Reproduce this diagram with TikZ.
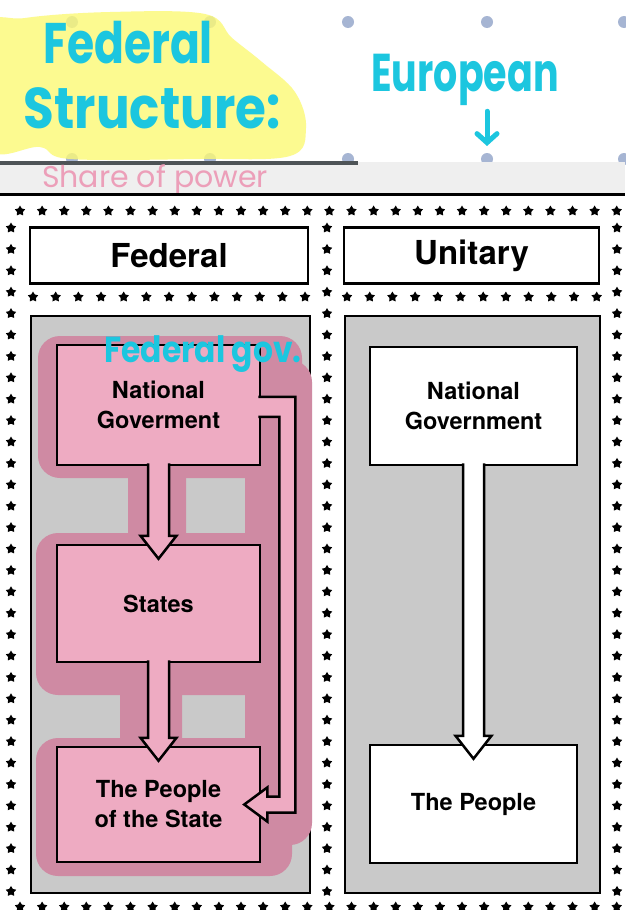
\documentclass[tikz,border=0pt]{standalone}
\usepackage{fontspec}
\setmainfont{TeX Gyre Heros}
\newfontfamily\handfont{Poppins}
\usetikzlibrary{calc,shapes.geometric,arrows.meta}

\definecolor{markcyan}{HTML}{1CC6DF}
\definecolor{hiyellow}{HTML}{FCF975}
\definecolor{dotblue}{HTML}{A6B5D3}
\definecolor{stripgray}{HTML}{EFEFEF}
\definecolor{rulegray}{HTML}{4E5457}
\definecolor{penpink}{HTML}{EC9FB9}
\definecolor{panelgray}{HTML}{C9C9C9}
\definecolor{blobpink}{HTML}{CF8AA3}
\definecolor{boxpink}{HTML}{EEABC2}

\tikzset{
  starpt/.style={star, star points=5, star point ratio=1.8, fill=black, inner sep=0pt, minimum size=11pt},
  hdrbox/.style={draw, line width=2.5pt, fill=white, minimum height=56pt, font=\bfseries\fontsize{33}{38}\selectfont},
  panel/.style={draw, line width=2.5pt, fill=panelgray},
  levelbox/.style={draw, line width=2.5pt, minimum width=203pt, align=center, font=\bfseries\fontsize{23.5}{30}\selectfont},
  blockarrow/.style={draw, line width=2.5pt, line join=miter},
  blob/.style={fill=blobpink, rounded corners=22pt},
  hand/.style={text=markcyan, font=\handfont\bfseries\fontsize{#1}{#1}\selectfont},
  penhand/.style={text=penpink, font=\handfont\fontsize{#1}{#1}\selectfont},
  handarrow/.style={draw=markcyan, line width=5pt, line cap=round, -{Straight Barb[length=9pt,width=20pt,line cap=round]}}
}

% hollow down arrow from one box into the next
\newcommand{\downblock}[3]{%
  \draw[blockarrow, fill=#3]
    ($(#1.south)+(-10.5,-3)$) -- ($(#2.north)+(-10.5,-8)$) -- ($(#2.north)+(-18,-8)$)
    -- ($(#2.north)+(0,15)$) -- ($(#2.north)+(18,-8)$) -- ($(#2.north)+(10.5,-8)$)
    -- ($(#1.south)+(10.5,-3)$);}

\begin{document}
\begin{tikzpicture}[x=1pt, y=-1pt]
  \useasboundingbox (0,0) rectangle (625,910);
  \fill[white] (0,0) rectangle (625,910);

  % notebook dots
  \foreach \dx in {72,210,348,487,624}
    \foreach \dy in {22,159}
      \fill[dotblue] (\dx,\dy) circle (6pt);

  % highlighter and notes
  \fill[hiyellow, fill opacity=0.8] plot[smooth cycle, tension=0.6] coordinates
    {(-12,30) (25,18) (110,12) (205,14) (232,38) (262,62) (295,92) (306,128) (290,156) (200,159) (70,159) (40,147) (-12,146)};
  \node[hand=44] (fedword) at (128,43) {\scalebox{1}[1.3]{Federal}};
  \node[hand=50] (structword) at (152,108) {\scalebox{1}[1.15]{Structure:}};
  \node[hand=38] (european) at (465,80) {\scalebox{1}[1.4]{European}};
  \coordinate (euroTip) at (487,146);
  \draw[handarrow] ($(european.south -| euroTip)+(0,2)$) -- (euroTip);

  \fill[stripgray] (0,162) rectangle (625,193);
  \draw[rulegray, line width=4.5pt] (0,163) -- (358,163);
  \node[penhand=30] (sharenote) at (155,180) {Share of power};
  \draw[line width=3pt] (0,194) -- (625,194);

  % star border
  \foreach \i in {0,...,27} {
    \node[starpt] (topstar-\i) at (20+22.1*\i,211) {};
    \node[starpt] (botstar-\i) at (20+22.1*\i,907) {};
  }
  \foreach \i in {0,...,12}
    \node[starpt] (midstarL-\i) at (33+22.67*\i,297) {};
  \foreach \i in {0,...,11}
    \node[starpt] (midstarR-\i) at (347+22.7*\i,297) {};
  \foreach \i in {0,...,31} {
    \node[starpt] (lstar-\i) at (11,228+21.4*\i) {};
    \node[starpt] (cstar-\i) at (327,228+21.4*\i) {};
    \node[starpt] (rstar-\i) at (617,228+21.4*\i) {};
  }

  % headings and panels
  \node[hdrbox, minimum width=278pt] (fedhdr) at (169,255.5) {Federal};
  \node[hdrbox, minimum width=255pt] (unihdr) at (471.5,255.5) {Unitary};
  \node[panel, minimum width=279pt, minimum height=577pt] (fedpanel) at (170.5,604.5) {};
  \node[panel, minimum width=255pt, minimum height=577pt] (unipanel) at (472.5,604.5) {};

  % pink marker over the federal side
  \fill[blob] (38,336) rectangle (302,478);
  \fill[blob] (245,360) rectangle (312,845);
  \fill[blob] (128,455) rectangle (186,560);
  \fill[blob] (36,533) rectangle (272,695);
  \fill[blob] (120,650) rectangle (182,760);
  \fill[blob] (36,738) rectangle (292,876);

  \node[levelbox, fill=boxpink, minimum height=120pt] (natF) at (158.5,405) {National\\Goverment};
  \node[levelbox, fill=boxpink, minimum height=117pt] (statesF) at (158.5,603.5) {States};
  \node[levelbox, fill=boxpink, minimum height=115pt] (peopleF) at (158.5,804.5) {The People\\of the State};
  \node[levelbox, fill=white, minimum width=207pt, minimum height=118pt] (natU) at (473.5,406) {National\\Government};
  \node[levelbox, fill=white, minimum width=207pt, minimum height=118pt] (peopleU) at (473.5,804) {The People};

  \downblock{natF}{statesF}{boxpink}
  \downblock{statesF}{peopleF}{boxpink}
  \downblock{natU}{peopleU}{white}

  % national government straight to the people
  \draw[blockarrow, fill=boxpink]
    ($(natF.north east)+(-3,53)$) -- ($(natF.north east)+(34,53)$)
    -- ($(peopleF.east)+(34,8)$) -- ($(peopleF.east)+(6,8)$) -- ($(peopleF.east)+(6,17)$)
    -- ($(peopleF.east)+(-17,0)$) -- ($(peopleF.east)+(6,-17)$) -- ($(peopleF.east)+(6,-8)$)
    -- ($(peopleF.east)+(18,-8)$) -- ($(natF.north east)+(18,73)$) -- ($(natF.north east)+(-3,73)$);

  \node[hand=33] (fedgov) at (203,354) {\scalebox{0.95}[1.1]{Federal gov.}};
\end{tikzpicture}
\end{document}
